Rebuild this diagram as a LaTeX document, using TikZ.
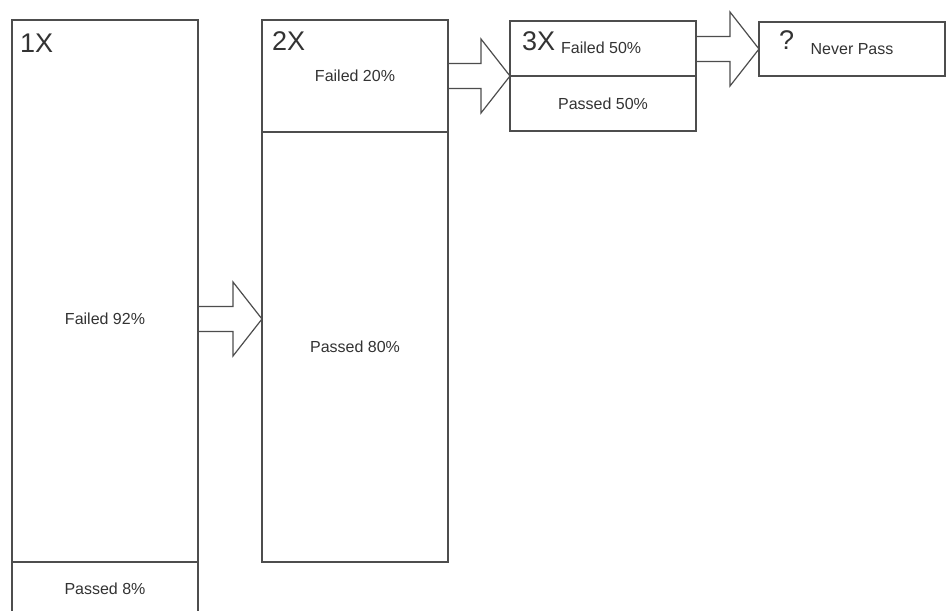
\documentclass[tikz,border=0pt]{standalone}
\usepackage{fontspec}
\setmainfont{Liberation Sans}
\usetikzlibrary{calc}
\definecolor{ln}{HTML}{4D4D4D}
\definecolor{tx}{HTML}{333333}
\newcommand\blockarr[2]{\draw[arr] ($(#1)+(0,-12.5)$) -- ($(#2)+(-29,-12.5)$) -- ($(#2)+(-29,-37)$) -- (#2) -- ($(#2)+(-29,37)$) -- ($(#2)+(-29,12.5)$) -- ($(#1)+(0,12.5)$);}
\begin{document}
\begin{tikzpicture}[x=1pt,y=-1pt,
  box/.style={draw=ln, line width=1.2pt, inner sep=0pt, outer sep=0pt, minimum width=186pt},
  lbl/.style={text=tx, font=\fontsize{16}{18}\selectfont},
  big/.style={text=tx, font=\fontsize{27}{30}\selectfont, inner sep=0pt, anchor=base west},
  arr/.style={draw=ln, line width=1.2pt, line join=miter}]
\useasboundingbox (0,0) rectangle (946,611);
\clip (0,0) rectangle (946,611);
\fill[white] (0,0) rectangle (946,611);
% column 1
\node[box, minimum height=542pt] (f1) at (105,291) {};
\node[box, lbl, minimum height=54pt] (p1) at (105,589) {Passed 8\%};
\node[lbl] (t1) at (105,319) {Failed 92\%};
\node[big] (n1) at (20,52) {1X};
% column 2
\node[box, lbl, minimum height=112pt] (f2) at (355,76) {Failed 20\%};
\node[box, lbl, minimum height=430pt] (p2) at (355,347) {Passed 80\%};
\node[big] (n2) at (272,50) {2X};
% column 3
\node[box, minimum height=55pt] (f3) at (603,48.5) {};
\node[box, lbl, minimum height=55pt] (p3) at (603,103.5) {Passed 50\%};
\node[big] (n3) at (522,50) {3X};
\node[lbl, anchor=base west, inner sep=0pt] (t3) at (561,53) {Failed 50\%};
% column 4
\node[box, lbl, minimum height=54pt] (f4) at (852,49) {Never Pass};
\node[big] (n4) at (779,49) {?};
% block arrows
\coordinate (e1) at (p2.west |- t1.center);
\coordinate (s1) at (f1.east |- e1);
\coordinate (e2) at (f3.south west);
\coordinate (s2) at (f2.east |- e2);
\coordinate (e3) at (f4.west);
\coordinate (s3) at (f3.east |- e3);
\blockarr{s1}{e1}
\blockarr{s2}{e2}
\blockarr{s3}{e3}
\end{tikzpicture}
\end{document}
